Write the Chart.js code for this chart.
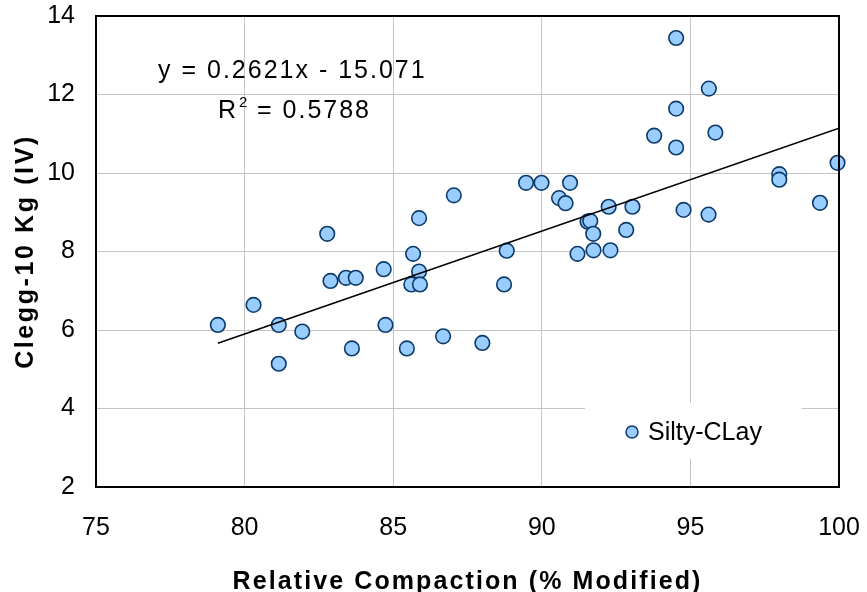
<!DOCTYPE html>
<html>
<head>
<meta charset="utf-8">
<script src="https://cdn.jsdelivr.net/npm/chart.js@4/dist/chart.umd.min.js"></script>
<style>
html,body{margin:0;padding:0;background:#fff;}
#wrap{width:867px;height:592px;position:relative;}
</style>
</head>
<body>
<div id="wrap"><canvas id="c" width="867" height="592"></canvas></div>
<script>
// ---- data ----
const compaction = [79.1, 80.3, 81.15, 81.15, 81.94, 82.78, 82.89, 83.41, 83.74, 83.61,
  84.68, 84.74, 85.67, 85.87, 85.87, 85.61, 85.9, 85.46, 86.68, 87.04,
  88.0, 88.82, 88.73, 89.47, 89.99, 90.95, 90.58, 90.8, 91.54, 91.63,
  91.73, 92.25, 93.05, 92.84, 91.2, 91.74, 92.31, 94.77, 95.61, 97.99,
  97.99, 99.36, 99.95, 94.52, 95.62, 94.52, 93.78, 95.84, 94.52];
const clegg = [6.13, 6.64, 6.13, 5.14, 5.96, 8.45, 7.25, 7.33, 7.33, 5.53,
  7.55, 6.13, 7.94, 8.85, 7.49, 7.16, 7.16, 5.53, 5.84, 9.43,
  5.67, 8.02, 7.16, 9.75, 9.75, 9.75, 9.36, 9.23, 8.76, 8.78,
  8.45, 9.14, 9.14, 8.55, 7.94, 8.03, 8.03, 9.06, 8.94, 9.97,
  9.83, 9.24, 10.26, 13.44, 12.15, 11.64, 10.95, 11.03, 10.65];
const trendX = [79.1, 100];
const trendY = [5.66, 11.14];
const xTicks = [75, 80, 85, 90, 95, 100];
const yTicks = [2, 4, 6, 8, 10, 12, 14];
const seriesName = 'Silty-CLay';
const equationText = 'y = 0.2621x - 15.071';
const r2Value = '= 0.5788';
const xTitle = 'Relative Compaction (% Modified)';
const yTitle = 'Clegg-10 Kg (IV)';

const FONT = "'Liberation Sans', Arial, sans-serif";
const PT_BG = '#99ccff';
const PT_BORDER = '#0b3a6a';

// letter-spaced axis titles
const origTitle = Chart.Scale.prototype.drawTitle;
if (origTitle) {
  Chart.LinearScale.prototype.drawTitle = function () {
    const ctx = this.ctx;
    ctx.save();
    ctx.letterSpacing = this.axis === 'y' ? '2.6px' : '2.1px';
    origTitle.call(this);
    ctx.restore();
  };
}

const framePlugin = {
  id: 'frame',
  beforeDatasetsDraw(chart) {
    const {ctx, chartArea: a} = chart;
    // legend background
    ctx.save();
    ctx.fillStyle = '#fff';
    ctx.fillRect(a.right - 254, a.bottom - 84, 217, 56);
    ctx.restore();
  },
  afterDatasetsDraw(chart) {
    const {ctx, chartArea: a} = chart;
    ctx.save();
    ctx.strokeStyle = '#000';
    ctx.lineWidth = 2;
    ctx.strokeRect(a.left, a.top, a.right - a.left, a.bottom - a.top);
    // legend
    const lx = a.right - 207, ly = a.bottom - 55;
    ctx.beginPath();
    ctx.arc(lx, ly, 6, 0, Math.PI * 2);
    ctx.fillStyle = PT_BG;
    ctx.fill();
    ctx.lineWidth = 1.5;
    ctx.strokeStyle = PT_BORDER;
    ctx.stroke();
    ctx.fillStyle = '#000';
    ctx.font = '25px ' + FONT;
    ctx.textBaseline = 'middle';
    ctx.textAlign = 'left';
    ctx.fillText(seriesName, lx + 16, ly + 1);
    // equation
    ctx.letterSpacing = '2px';
    ctx.textBaseline = 'alphabetic';
    ctx.fillText(equationText, a.left + 62, a.top + 62);
    ctx.fillText('R', a.left + 122, a.top + 102);
    ctx.fillText(r2Value, a.left + 161, a.top + 102);
    ctx.letterSpacing = '0px';
    ctx.font = '15px ' + FONT;
    ctx.fillText('2', a.left + 143, a.top + 91);
    ctx.restore();
  }
};

new Chart(document.getElementById('c'), {
  type: 'scatter',
  data: {
    datasets: [
      {
        label: 'Trend',
        data: trendX.map((x, i) => ({x, y: trendY[i]})),
        showLine: true,
        borderColor: '#000',
        borderWidth: 1.6,
        pointRadius: 0,
        order: 0
      },
      {
        label: seriesName,
        data: compaction.map((x, i) => ({x, y: clegg[i]})),
        backgroundColor: PT_BG,
        borderColor: PT_BORDER,
        borderWidth: 1.6,
        pointRadius: 7.3,
        order: 1,
        clip: false
      }
    ]
  },
  options: {
    responsive: false,
    animation: false,
    devicePixelRatio: 1,
    layout: {padding: {top: 16, right: 28, left: 0, bottom: 0}},
    plugins: {legend: {display: false}, tooltip: {enabled: false}},
    scales: {
      x: {
        type: 'linear',
        min: 75, max: 100,
        afterBuildTicks: s => { s.ticks = xTicks.map(v => ({value: v})); },
        afterFit: s => { s.height = 105; s.paddingLeft = 0; s.paddingRight = 0; },
        grid: {color: '#c4c4c4', lineWidth: 1, drawTicks: false},
        border: {color: '#000', width: 2},
        ticks: {color: '#000', font: {family: FONT, size: 25}, padding: 26, maxRotation: 0},
        title: {display: true, text: xTitle, color: '#000',
          font: {family: FONT, size: 25, weight: 'bold', lineHeight: 1}, padding: {top: 0, bottom: -3}}
      },
      y: {
        type: 'linear',
        min: 2, max: 14,
        afterBuildTicks: s => { s.ticks = yTicks.map(v => ({value: v})); },
        afterFit: s => { s.width = 96; s.paddingTop = 0; s.paddingBottom = 0; },
        grid: {color: '#c4c4c4', lineWidth: 1, drawTicks: false},
        border: {color: '#000', width: 2},
        ticks: {color: '#000', font: {family: FONT, size: 25}, padding: 21},
        title: {display: true, text: yTitle, color: '#000',
          font: {family: FONT, size: 25, weight: 'bold', lineHeight: 1}, padding: {top: 14, bottom: 0}}
      }
    }
  },
  plugins: [framePlugin]
});
</script>
</body>
</html>
